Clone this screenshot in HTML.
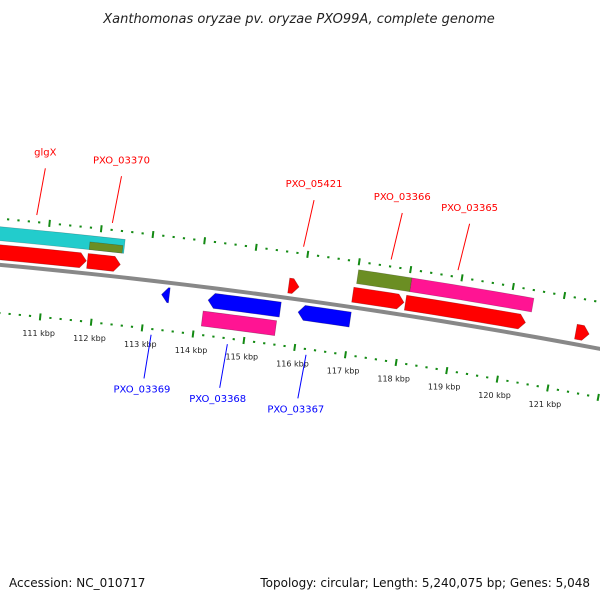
<!DOCTYPE html>
<html><head><meta charset="utf-8"><style>
body{margin:0;background:#fff}
svg{display:block;font-family:"DejaVu Sans","Liberation Sans",sans-serif}
</style></head><body>
<svg id="map" width="600" height="600" viewBox="0 0 600 600">
<text x="299" y="23" text-anchor="middle" font-size="13" font-style="italic" fill="#222">Xanthomonas oryzae pv. oryzae PXO99A, complete genome</text>
<text x="9" y="587" font-size="12" fill="#111">Accession: NC_010717</text>
<text x="590" y="587" font-size="12" fill="#111" text-anchor="end">Topology: circular; Length: 5,240,075 bp; Genes: 5,048</text>
<g id="plot"></g>
</svg>
<script>
// data (kbp)
const fwdGenes = [[105,111.78,'#ff0000',1],[111.80,112.44,'#ff0000',1],[115.72,115.92,'#ff0000',1],[116.97,117.97,'#ff0000',1],[118.0,120.35,'#ff0000',1],[121.34,121.6,'#ff0000',1]];
const fwdFeatures = [[105,112.48,'#22cccc',0],[111.81,112.45,'#6b8e23',0.55],[117.01,118.05,'#6b8e23',0],[118.05,120.43,'#ff1493',0]];
const revGenes = [[113.3,113.45,'#0000ff'],[114.21,115.62,'#0000ff'],[115.97,116.99,'#0000ff']];
const revFeatures = [[114.14,115.58,'#ff1493']];
const fwdLabels = [['glgX',110.74],['PXO_03370',112.2],['PXO_05421',115.9],['PXO_03366',117.6],['PXO_03365',118.9]];
const revLabels = [['PXO_03369',113.15],['PXO_03368',114.65],['PXO_03367',116.2]];
const tickLabels = [111,112,113,114,115,116,117,118,119,120,121];

const NS='http://www.w3.org/2000/svg';
const CX=-601, CY=6741, RB=6504;
const plot=document.getElementById('plot');
function ang(k){return (5.7+(k-111)*0.455)*Math.PI/180;}
function pt(k,r){const a=ang(k);return [CX+r*Math.sin(a), CY-r*Math.cos(a)];}
function mk(tag,attrs){const e=document.createElementNS(NS,tag);for(const k in attrs)e.setAttribute(k,attrs[k]);plot.appendChild(e);return e;}
function arcPts(a,b,r,n){const p=[];for(let i=0;i<=n;i++){p.push(pt(a+(b-a)*i/n,r));}return p;}
function band(a,b,r1,r2,dir){
  const tip=0.12; let pts=[];
  const rm=(r1+r2)/2;
  if(dir===1){const e=Math.max(a,b-tip);pts=arcPts(a,e,r2,12).concat([pt(b,rm)],arcPts(e,a,r1,12));}
  else if(dir===-1){const s=Math.min(b,a+tip);pts=[pt(a,rm)].concat(arcPts(s,b,r2,12),arcPts(b,s,r1,12));}
  else{pts=arcPts(a,b,r2,12).concat(arcPts(b,a,r1,12));}
  return pts.map(p=>p[0].toFixed(2)+','+p[1].toFixed(2)).join(' ');
}
// backbone
{const p=arcPts(100,125,RB,40).map(q=>q.join(',')).join(' ');
const e=mk('polyline',{points:p,fill:'none',stroke:'#888',"stroke-width":4});

}
// ticks
function ring(r,name){
  for(let i=1000;i<=1250;i++){const k=i/10; if(i%2) continue;
    const major=(i%10===0);
    const a=pt(k,r-(major?3.5:1)), b=pt(k,r+(major?3.5:1));
    const e=mk('line',{x1:a[0],y1:a[1],x2:b[0],y2:b[1],stroke:'#138a13',"stroke-width":major?2:2.2});
    
    }
}
ring(6550,'outer-ruler');ring(6456,'inner-ruler');
tickLabels.forEach(k=>{const p=pt(k,6440);
  const t=mk('text',{x:p[0],y:p[1]+3,"font-size":8,"text-anchor":"middle",fill:'#222'});
  t.textContent=k+' kbp';
  
  });
// features
fwdFeatures.forEach((f,i)=>{const r1=6528, r2=f[3]?6528+(6542-6528)*f[3]:6542;
  const e=mk('polygon',{points:band(f[0],f[1],r1,r2,0),fill:f[2],stroke:'rgba(0,0,0,0.25)',"stroke-width":0.6});
  
  });
fwdGenes.forEach((f,i)=>{
  const e=mk('polygon',{points:band(f[0],f[1],6509,6524,f[3]),fill:f[2],stroke:'rgba(120,0,0,0.5)',"stroke-width":0.6});
  
  });
revGenes.forEach((f,i)=>{
  const e=mk('polygon',{points:band(f[0],f[1],6484,6499,-1),fill:f[2],stroke:'rgba(0,0,100,0.5)',"stroke-width":0.6});
  
  });
revFeatures.forEach((f,i)=>{
  const e=mk('polygon',{points:band(f[0],f[1],6465,6480,0),fill:f[2],stroke:'rgba(100,0,50,0.5)',"stroke-width":0.6});
  
  });
// labels
fwdLabels.forEach(l=>{const a=pt(l[1],6557),b=pt(l[1],6604),c=pt(l[1],6614);
  const ln=mk('line',{x1:a[0],y1:a[1],x2:b[0]+4,y2:b[1],stroke:'#f00',"stroke-width":1});
  
  
  const t=mk('text',{x:b[0]+4,y:c[1]-3,"font-size":10,"text-anchor":"middle",fill:'#f00'});
  t.textContent=l[0];
  
  });
revLabels.forEach(l=>{const a=pt(l[1],6450),b=pt(l[1],6406);
  const ln=mk('line',{x1:a[0]+2,y1:a[1],x2:b[0],y2:b[1],stroke:'#00f',"stroke-width":1});
  
  
  const t=mk('text',{x:b[0]-2,y:b[1]+14,"font-size":10,"text-anchor":"middle",fill:'#00f'});
  t.textContent=l[0];
  
  });
</script>
</body></html>
